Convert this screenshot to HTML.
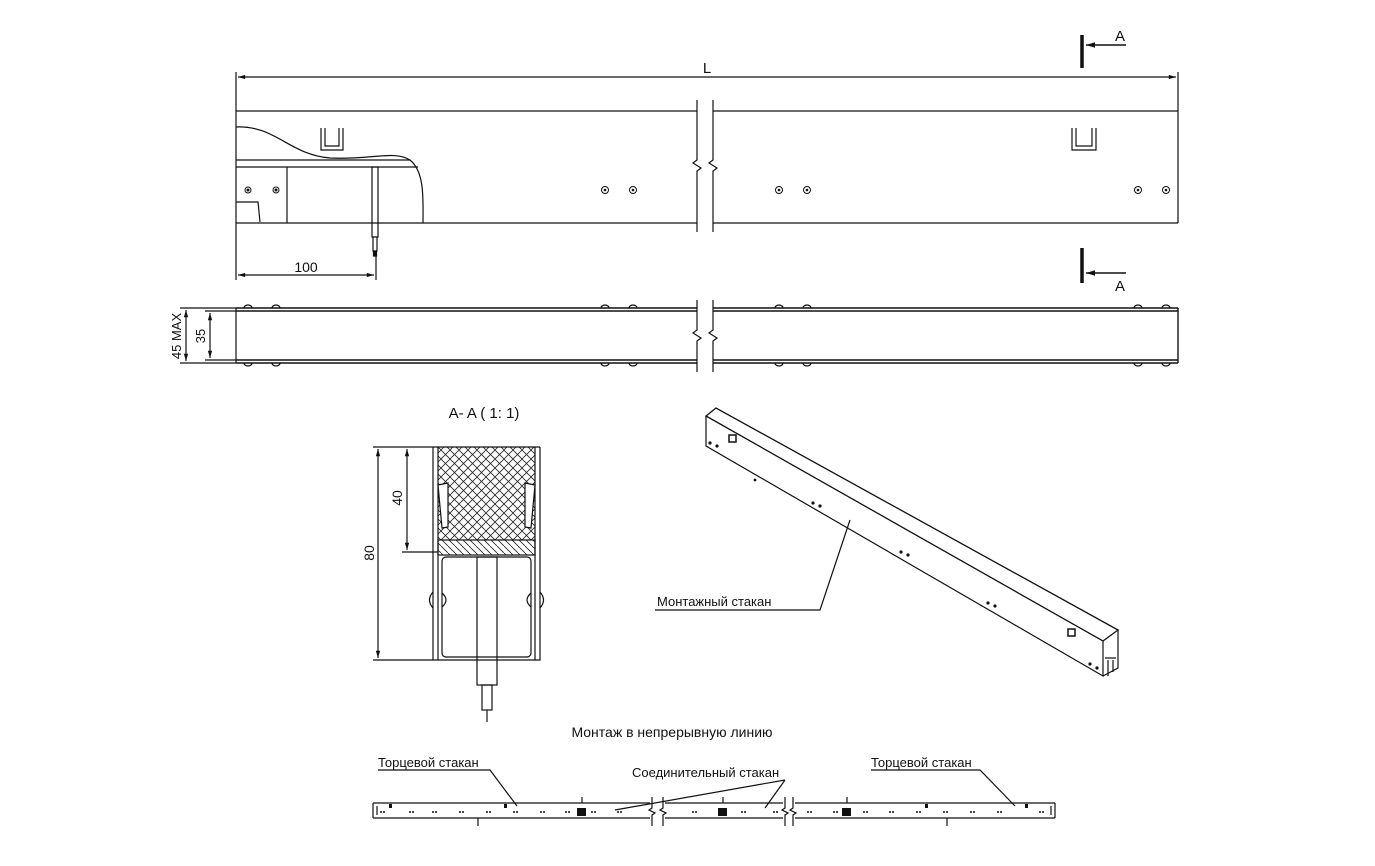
<!DOCTYPE html>
<html><head><meta charset="utf-8"><style>
body{margin:0;background:#fff}
svg{display:block}
text{font-family:"Liberation Sans",sans-serif;fill:#111}
</style></head><body>
<svg width="1375" height="866" viewBox="0 0 1375 866" xmlns="http://www.w3.org/2000/svg">
<defs>
<marker id="ar" viewBox="0 0 10 10" refX="10" refY="5" markerWidth="10" markerHeight="6" orient="auto-start-reverse"><path d="M0,2 L10,5 L0,8z" fill="#111"/></marker>
<pattern id="xh" width="9" height="9" patternUnits="userSpaceOnUse"><path d="M0,0 L9,9 M9,0 L0,9" stroke="#222" stroke-width="0.8"/></pattern>
<pattern id="dh" width="7" height="7" patternUnits="userSpaceOnUse"><path d="M0,0 L7,7" stroke="#222" stroke-width="0.8"/></pattern>
</defs>
<g fill="none" stroke="#111" stroke-width="1.2">
<line x1="236" y1="72" x2="236" y2="280"/>
<line x1="1178" y1="72" x2="1178" y2="223"/>
<line x1="238" y1="77" x2="1176" y2="77" marker-start="url(#ar)" marker-end="url(#ar)"/>
<line x1="236" y1="111" x2="697" y2="111"/><line x1="713" y1="111" x2="1178" y2="111"/>
<line x1="236" y1="223" x2="697" y2="223"/><line x1="713" y1="223" x2="1178" y2="223"/>
<path d="M236,127 C275,125 290,155 330,158 C370,160 395,150 410,160 C425,172 423,200 423,223"/>
<line x1="236" y1="160" x2="410" y2="160"/><line x1="236" y1="167" x2="418" y2="167"/>
<line x1="287" y1="167" x2="287" y2="223"/>
<path d="M236,202 H258 L260,222"/>
<rect x="372" y="167" width="6" height="70"/>
<rect x="373" y="237" width="4" height="14" fill="#fff"/>
<rect x="373.5" y="251" width="3" height="5" fill="#111"/>
<line x1="238" y1="275" x2="374" y2="275" marker-start="url(#ar)" marker-end="url(#ar)"/>
<line x1="376" y1="256" x2="376" y2="280"/>
<path d="M321,128 V150 H343 V128 M325,128 V146 H339 V128"/>
<path d="M1072,128 V150 H1096 V128 M1076,128 V146 H1092 V128"/>
<path d="M697,100 V160 L693,163 L701,168 L697,171 V232 M713,100 V160 L709,163 L717,168 L713,171 V232"/>
<line x1="1082" y1="35" x2="1082" y2="68" stroke-width="3.5"/>
<line x1="1126" y1="45" x2="1086" y2="45" marker-end="url(#ar)" stroke-width="1.5"/>
<line x1="1082" y1="248" x2="1082" y2="283" stroke-width="3.5"/>
<line x1="1126" y1="273" x2="1086" y2="273" marker-end="url(#ar)" stroke-width="1.5"/>
<line x1="180" y1="308" x2="236" y2="308"/><line x1="180" y1="363" x2="236" y2="363"/>
<line x1="186" y1="310" x2="186" y2="361" marker-start="url(#ar)" marker-end="url(#ar)"/>
<line x1="205" y1="311" x2="236" y2="311"/><line x1="205" y1="360" x2="236" y2="360"/>
<line x1="210" y1="313" x2="210" y2="358" marker-start="url(#ar)" marker-end="url(#ar)"/>
<line x1="236" y1="308" x2="236" y2="363"/>
<path d="M236,308 H697 M713,308 H1178 M236,311 H697 M713,311 H1178 M236,360 H697 M713,360 H1178 M236,363 H697 M713,363 H1178 M1178,308 V363" stroke-width="1.4"/>
<path d="M697,300 V330 L693,333 L701,338 L697,341 V372 M713,300 V330 L709,333 L717,338 L713,341 V372"/>
<g stroke-width="1.3">
<path d="M244,308 A4,3 0 0 1 252,308 M272,308 A4,3 0 0 1 280,308 M601,308 A4,3 0 0 1 609,308 M629,308 A4,3 0 0 1 637,308 M775,308 A4,3 0 0 1 783,308 M803,308 A4,3 0 0 1 811,308 M1134,308 A4,3 0 0 1 1142,308 M1162,308 A4,3 0 0 1 1170,308"/>
<path d="M244,363 A4,3 0 0 0 252,363 M272,363 A4,3 0 0 0 280,363 M601,363 A4,3 0 0 0 609,363 M629,363 A4,3 0 0 0 637,363 M775,363 A4,3 0 0 0 783,363 M803,363 A4,3 0 0 0 811,363 M1134,363 A4,3 0 0 0 1142,363 M1162,363 A4,3 0 0 0 1170,363"/>
</g>
<rect x="438" y="447" width="97" height="93" fill="url(#xh)" stroke="none"/>
<rect x="438" y="540" width="97" height="15" fill="url(#dh)"/>
<path d="M433,447 V660 H540 V447 M438,447 V660 M535,447 V660"/>
<line x1="433" y1="447" x2="540" y2="447"/>
<rect x="442" y="557" width="89" height="100" rx="4"/>
<path d="M438,485 L448,483 V527 L442,528z M535,485 L525,483 V527 L531,528z" fill="#fff"/>
<path d="M433,592 Q426,600 433,608 M540,592 Q547,600 540,608 M442,593 Q450,600 442,607 M531,593 Q523,600 531,607"/>
<rect x="477" y="557" width="20" height="128" fill="none"/>
<rect x="482" y="685" width="10" height="25"/>
<line x1="487" y1="710" x2="487" y2="722"/>
<line x1="373" y1="447" x2="433" y2="447"/><line x1="373" y1="660" x2="433" y2="660"/>
<line x1="378" y1="449" x2="378" y2="658" marker-start="url(#ar)" marker-end="url(#ar)"/>
<line x1="402" y1="552" x2="438" y2="552"/>
<line x1="407" y1="449" x2="407" y2="550" marker-start="url(#ar)" marker-end="url(#ar)"/>
<path d="M706,416 L716,408 L1118,630 L1103,641 Z" stroke-width="1.3"/>
<path d="M706,416 V446 L1103,676 V641"/>
<path d="M1103,676 L1118,668 V630"/>
<rect x="729" y="435" width="7" height="7" stroke-width="1.5"/>
<rect x="1068" y="629" width="7" height="7" stroke-width="1.5"/>
<path d="M1105,658 H1116 M1108,660 V676 M1113,660 V672"/>
<path d="M850,520 L820,610 H655"/>
<path d="M373,803 H650 M373,818 H650 M373,803 V818 M377,806 V815 M665,803 H783 M665,818 H783 M795,803 H1055 M795,818 H1055 M1055,803 V818 M1051,806 V815"/>
<path d="M652,797 V808 L649,810 L655,813 L652,815 V826 M663,797 V808 L660,810 L666,813 L663,815 V826 M785,797 V808 L782,810 L788,813 L785,815 V826 M793,797 V808 L790,810 L796,813 L793,815 V826"/>
<path d="M478,818 V826 M947,818 V826 M582,797 V803 M723,797 V803 M847,797 V803"/>
<path d="M378,770 H490 L517,806 M871,770 H980 L1015,806 M785,780 L615,810 M785,780 L765,808"/>
</g>
<g fill="#111">
<rect x="577" y="808" width="9" height="8"/><rect x="718" y="808" width="9" height="8"/><rect x="842" y="808" width="9" height="8"/>
<rect x="389" y="804" width="3" height="4"/><rect x="504" y="804" width="3" height="4"/><rect x="925" y="804" width="3" height="4"/><rect x="1025" y="804" width="3" height="4"/>
</g>
<g fill="none" stroke="#111" stroke-width="1">
<circle cx="248" cy="190" r="3"/><circle cx="276" cy="190" r="3"/>
<circle cx="605" cy="190" r="3.5"/><circle cx="633" cy="190" r="3.5"/>
<circle cx="779" cy="190" r="3.5"/><circle cx="807" cy="190" r="3.5"/>
<circle cx="1138" cy="190" r="3.5"/><circle cx="1166" cy="190" r="3.5"/>
</g>
<g fill="#111">
<circle cx="248" cy="190" r="1.5"/><circle cx="276" cy="190" r="1.5"/>
<circle cx="605" cy="190" r="1.3"/><circle cx="633" cy="190" r="1.3"/>
<circle cx="779" cy="190" r="1.3"/><circle cx="807" cy="190" r="1.3"/>
<circle cx="1138" cy="190" r="1.3"/><circle cx="1166" cy="190" r="1.3"/>
<circle cx="710" cy="443" r="1.6"/><circle cx="717" cy="446" r="1.6"/>
<circle cx="813" cy="503" r="1.6"/><circle cx="820" cy="506" r="1.6"/>
<circle cx="901" cy="552" r="1.6"/><circle cx="908" cy="555" r="1.6"/>
<circle cx="988" cy="603" r="1.6"/><circle cx="995" cy="606" r="1.6"/>
<circle cx="1090" cy="664" r="1.6"/><circle cx="1097" cy="668" r="1.6"/>
<circle cx="755" cy="480" r="1.4"/>
<g>
<circle cx="381" cy="812" r="1"/><circle cx="384" cy="812" r="1"/><circle cx="410" cy="812" r="1"/><circle cx="413" cy="812" r="1"/><circle cx="433" cy="812" r="1"/><circle cx="436" cy="812" r="1"/><circle cx="460" cy="812" r="1"/><circle cx="463" cy="812" r="1"/><circle cx="487" cy="812" r="1"/><circle cx="490" cy="812" r="1"/><circle cx="514" cy="812" r="1"/><circle cx="517" cy="812" r="1"/><circle cx="541" cy="812" r="1"/><circle cx="544" cy="812" r="1"/><circle cx="566" cy="812" r="1"/><circle cx="569" cy="812" r="1"/><circle cx="592" cy="812" r="1"/><circle cx="595" cy="812" r="1"/><circle cx="618" cy="812" r="1"/><circle cx="621" cy="812" r="1"/>
<circle cx="693" cy="812" r="1"/><circle cx="696" cy="812" r="1"/><circle cx="742" cy="812" r="1"/><circle cx="745" cy="812" r="1"/><circle cx="774" cy="812" r="1"/><circle cx="777" cy="812" r="1"/>
<circle cx="808" cy="812" r="1"/><circle cx="811" cy="812" r="1"/><circle cx="834" cy="812" r="1"/><circle cx="837" cy="812" r="1"/><circle cx="864" cy="812" r="1"/><circle cx="867" cy="812" r="1"/><circle cx="890" cy="812" r="1"/><circle cx="893" cy="812" r="1"/><circle cx="917" cy="812" r="1"/><circle cx="920" cy="812" r="1"/><circle cx="944" cy="812" r="1"/><circle cx="947" cy="812" r="1"/><circle cx="971" cy="812" r="1"/><circle cx="974" cy="812" r="1"/><circle cx="998" cy="812" r="1"/><circle cx="1001" cy="812" r="1"/><circle cx="1040" cy="812" r="1"/><circle cx="1043" cy="812" r="1"/>
</g>
</g>
<text x="707" y="73" font-size="15" text-anchor="middle">L</text>
<text x="1120" y="41" font-size="15" text-anchor="middle">A</text>
<text x="1120" y="291" font-size="15" text-anchor="middle">A</text>
<text x="306" y="272" font-size="14" text-anchor="middle">100</text>
<text transform="translate(181,336) rotate(-90)" font-size="13" text-anchor="middle">45 MAX</text>
<text transform="translate(205,336) rotate(-90)" font-size="13" text-anchor="middle">35</text>
<text x="484" y="418" font-size="15" text-anchor="middle">A- A ( 1: 1)</text>
<text transform="translate(374,553) rotate(-90)" font-size="14" text-anchor="middle">80</text>
<text transform="translate(402,498) rotate(-90)" font-size="14" text-anchor="middle">40</text>
<text x="657" y="606" font-size="13">Монтажный стакан</text>
<text x="672" y="737" font-size="14" text-anchor="middle">Монтаж в непрерывную линию</text>
<text x="378" y="767" font-size="13">Торцевой стакан</text>
<text x="632" y="777" font-size="13">Соединительный стакан</text>
<text x="871" y="767" font-size="13">Торцевой стакан</text>
</svg>
</body></html>
